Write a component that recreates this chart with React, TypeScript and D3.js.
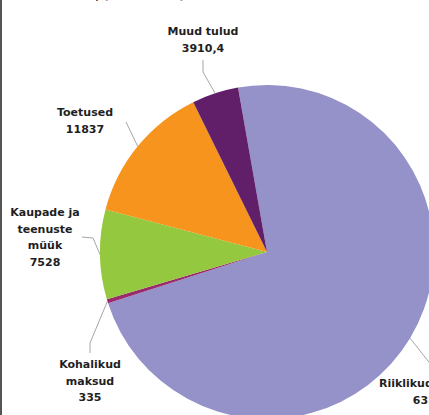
import React from "react";
import * as d3 from "d3";

// ---- data ----
const categories = ["Riiklikud maksud", "Kohalikud maksud", "Kaupade ja teenuste müük", "Toetused", "Muud tulud"];
const values = [63240, 335, 7528, 11837, 3910.4];
const valueLabels = ["63240", "335", "7528", "11837", "3910,4"];
const labelLines = [
  ["Riiklikud maksud"],
  ["Kohalikud", "maksud"],
  ["Kaupade ja", "teenuste", "müük"],
  ["Toetused"],
  ["Muud tulud"],
];
const colors = ["#9591c9", "#9a2a6c", "#93c83f", "#f7941e", "#611f69"];

// ---- layout ----
const W = 429;
const H = 415;
const CX = 267;
const CY = 252;
const R = 167;
const START_DEG = -10;
const LINE_H = 16.5;
// label block: centre x, first baseline y, leader path points (from label toward slice)
const labelLayout = [
  { x: 432, y: 387, leader: [[432, 366]] },
  { x: 90, y: 368, leader: [[90, 353], [90, 343]] },
  { x: 45, y: 216, leader: [[82, 237], [93, 238]] },
  { x: 85, y: 116, leader: [[126, 122]] },
  { x: 203, y: 35, leader: [[203, 60], [203, 72]] },
];

export default function App() {
  const start = (START_DEG * Math.PI) / 180;
  const pie = d3
    .pie<number>()
    .sort(null)
    .value((d) => d)
    .startAngle(start)
    .endAngle(start + 2 * Math.PI);
  const arcs = pie(values);
  const arc = d3.arc<d3.PieArcDatum<number>>().innerRadius(0).outerRadius(R);
  const line = d3.line();

  return (
    <svg
      width={W}
      height={H}
      style={{ position: "absolute", left: 0, top: 0, background: "#fff" }}
      fontFamily="DejaVu Sans"
    >
      <rect x={0} y={0} width={W} height={H} fill="#fff" />
      <text x={12} y={-1.5} fontSize={11} fontWeight="bold" fill="#222">
        Tulud 2011. a, (tuhat eurot)
      </text>
      <g transform={`translate(${CX},${CY})`}>
        {arcs.map((a, i) => (
          <path key={categories[i]} d={arc(a) || ""} fill={colors[i]} />
        ))}
      </g>
      {arcs.map((a, i) => {
        const mid = (a.startAngle + a.endAngle) / 2;
        const ex = CX + R * Math.sin(mid);
        const ey = CY - R * Math.cos(mid);
        const pts = [...labelLayout[i].leader.map((p) => [p[0], p[1]] as [number, number]), [ex, ey] as [number, number]];
        return <path key={"l" + i} d={line(pts) || ""} fill="none" stroke="#a6a6a6" strokeWidth={1} />;
      })}
      {labelLines.map((lines, i) => {
        const L = labelLayout[i];
        const all = [...lines, valueLabels[i]];
        return (
          <text key={"t" + i} textAnchor="middle" fontSize={11} fontWeight="bold" fill="#1f1f1f">
            {all.map((s, j) => (
              <tspan key={j} x={L.x} y={L.y + j * LINE_H}>
                {s}
              </tspan>
            ))}
          </text>
        );
      })}
      <line x1={1} y1={0} x2={1} y2={H} stroke="#555" strokeWidth={2} />
    </svg>
  );
}
